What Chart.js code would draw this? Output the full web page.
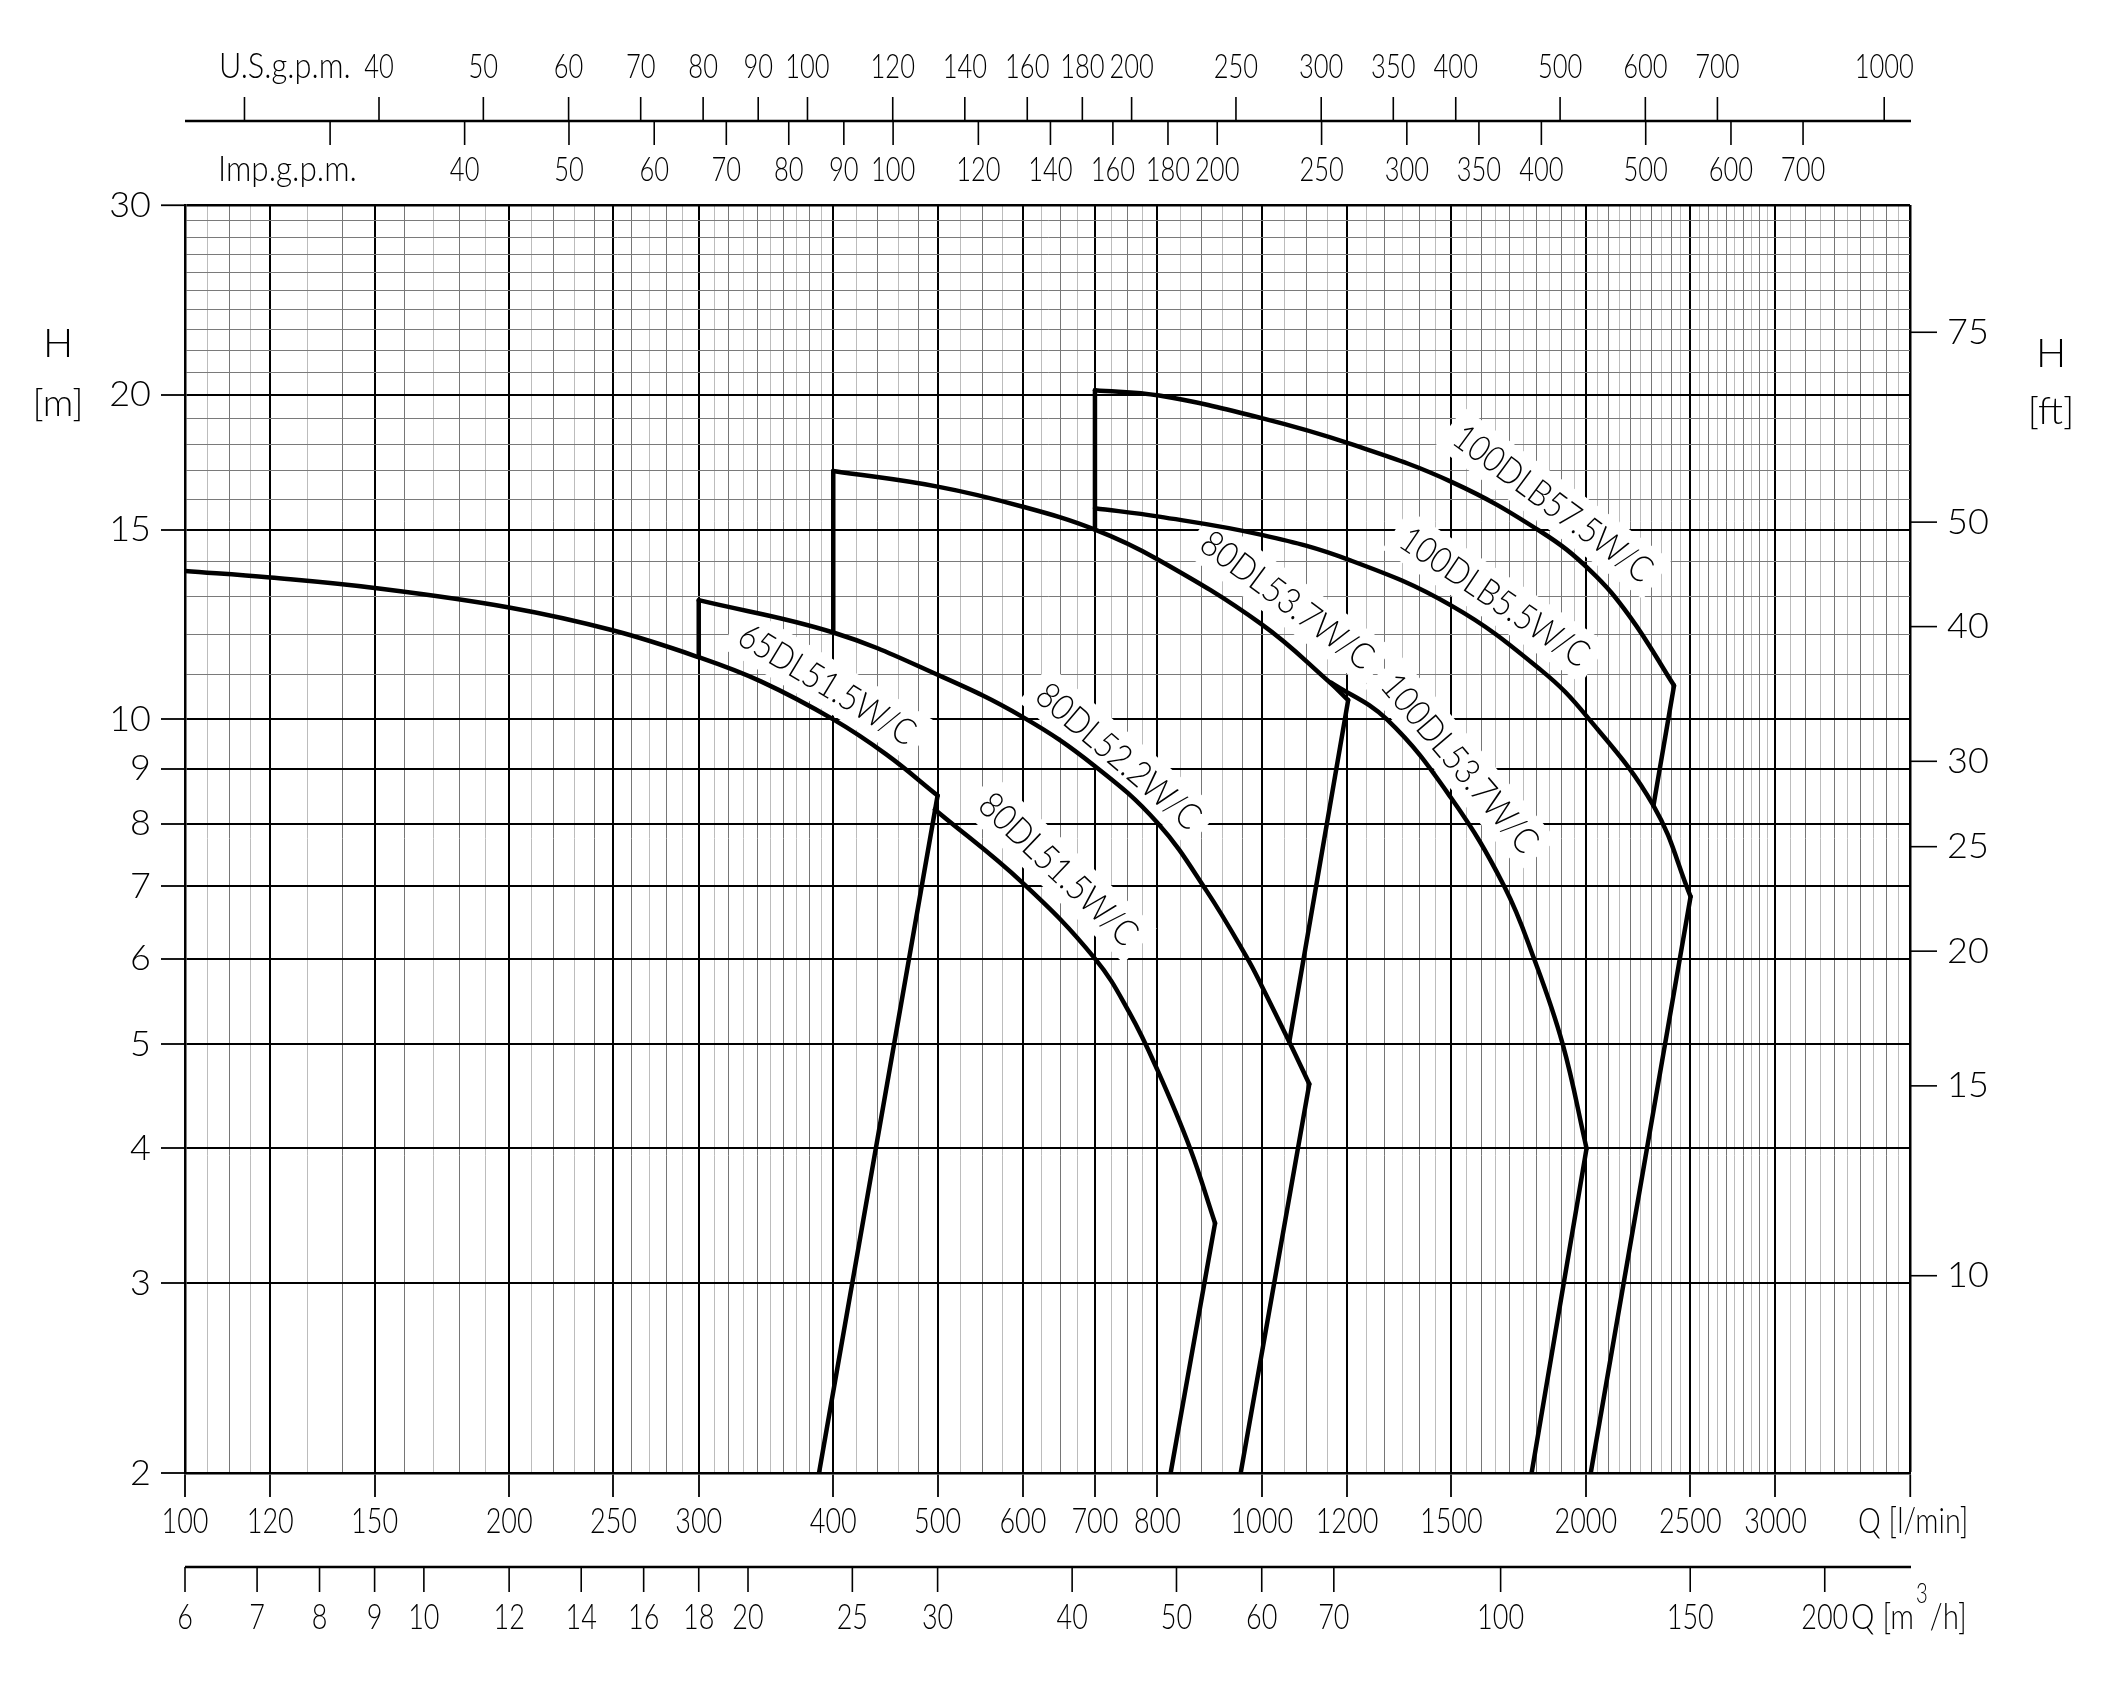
<!DOCTYPE html>
<html>
<head>
<meta charset="utf-8">
<title>DL pump curves</title>
<script src="https://cdn.jsdelivr.net/npm/chart.js@4.4.1/dist/chart.umd.min.js"></script>
<style>
  html, body { margin: 0; padding: 0; background: #fff; }
  canvas { display: block; }
</style>
</head>
<body>
<canvas id="chart" width="2105" height="1687"></canvas>
<script>
// Q in l/min, H in m

// 65DL51.5W/C
const q65DL515 = [100, 120, 150, 200, 250, 300, 343, 400, 448, 500];
const h65DL515 = [13.73, 13.54, 13.24, 12.7, 12.09, 11.42, 10.84, 10.0, 9.28, 8.5];
const drop65DL515Q = [500, 388];
const drop65DL515H = [8.5, 2];

// 80DL51.5W/C
const q80DL515 = [497, 600, 700, 754, 800, 858, 905];
const h80DL515 = [8.25, 7.05, 6.0, 5.34, 4.73, 4.0, 3.41];
const drop80DL515Q = [905, 823];
const drop80DL515H = [3.41, 2];

// 80DL52.2W/C
const rise80DL522Q = [300, 300];
const rise80DL522H = [11.42, 12.9];
const q80DL522 = [300, 400, 500, 600, 700, 800, 889, 970, 1000, 1063, 1107];
const h80DL522 = [12.9, 12.04, 11.0, 10.05, 9.05, 8.02, 6.93, 6.0, 5.66, 5.0, 4.59];
const drop80DL522Q = [1107, 956];
const drop80DL522H = [4.59, 2];

// 80DL53.7W/C
const rise80DL537Q = [400, 400];
const rise80DL537H = [12.04, 17.0];
const q80DL537 = [400, 500, 600, 700, 800, 1000, 1157, 1203];
const h80DL537 = [17.0, 16.44, 15.75, 15.0, 14.08, 12.25, 10.82, 10.42];
const drop80DL537Q = [1203, 1061];
const drop80DL537H = [10.42, 5.03];

// 100DL53.7W/C
const q100DL537 = [1160, 1307, 1500, 1680, 1790, 1903, 2003];
const h100DL537 = [10.82, 10.0, 8.45, 7.0, 6.0, 5.0, 4.0];
const drop100DL537Q = [2003, 1781];
const drop100DL537H = [4.0, 2];

// 100DLB57.5W/C
const rise100DLB575Q = [700, 700];
const rise100DLB575H = [15.0, 20.2];
const q100DLB575 = [700, 803, 1000, 1205, 1502, 1817, 2018, 2198, 2415];
const h100DLB575 = [20.2, 19.97, 19.03, 18.03, 16.6, 14.93, 13.75, 12.45, 10.75];
const drop100DLB575Q = [2415, 2311];
const drop100DLB575H = [10.75, 8.32];

// 100DLB5.5W/C
const q100DLB55 = [700, 803, 1000, 1205, 1500, 1817, 2003, 2311, 2502];
const h100DLB55 = [15.7, 15.42, 14.83, 14.06, 12.75, 11.11, 10.07, 8.32, 6.85];
const drop100DLB55Q = [2502, 2021];
const drop100DLB55H = [6.85, 2];

const curveNames = ['65DL51.5W/C', '80DL51.5W/C', '80DL52.2W/C', '80DL53.7W/C',
                    '100DL53.7W/C', '100DLB57.5W/C', '100DLB5.5W/C'];

// axis ticks
const qTicks = [100, 120, 150, 200, 250, 300, 400, 500, 600, 700, 800, 1000, 1200, 1500, 2000, 2500, 3000];
const qMax = 4000;
const hTicks = [2, 3, 4, 5, 6, 7, 8, 9, 10, 15, 20, 30];
const hMinor = [11, 12, 13, 14, 16, 17, 18, 19, 21, 22, 23, 24, 25, 26, 27, 28, 29];
const usGpmTicks = [30, 40, 50, 60, 70, 80, 90, 100, 120, 140, 160, 180, 200, 250, 300, 350, 400, 500, 600, 700, 1000];
const impGpmTicks = [30, 40, 50, 60, 70, 80, 90, 100, 120, 140, 160, 180, 200, 250, 300, 350, 400, 500, 600, 700];
const m3hTicks = [6, 7, 8, 9, 10, 12, 14, 16, 18, 20, 25, 30, 40, 50, 60, 70, 100, 150, 200];
const ftTicks = [10, 15, 20, 25, 30, 40, 50, 75];

// fine grid: [from, to, step]
const qMinorSteps = [[100, 120, 5], [120, 400, 10], [400, 500, 20], [500, 800, 25],
                     [800, 1000, 40], [1000, 3000, 50], [3000, 4000, 100]];

const US_GAL = 3.78541, IMP_GAL = 4.54609, M3H = 1000 / 60, FOOT = 0.3048;

// ---------- fonts ----------
function hasFont(name) {
    const c = document.createElement('canvas').getContext('2d');
    c.font = '40px monospace';
    const a = c.measureText('mmmiii0123WL').width;
    c.font = '40px "' + name + '", monospace';
    return c.measureText('mmmiii0123WL').width !== a;
}
const round = hasFont('Lato') ? 'Lato' : 'DejaVu Sans';
const SQUEEZE = 0.75;   // light font squeezed to look like the drawing-office lettering

// ---------- grid ticks ----------
const majorQ = new Set([...qTicks, qMax]);
const minorShade = new Map();
qMinorSteps.forEach(([a, b, s]) => {
    let k = 1;
    for (let v = a + s; v < b - 1e-9; v += s, k++) {
        const val = Math.round(v * 100) / 100;
        if (!majorQ.has(val)) minorShade.set(val, k % 2 === 0 ? '#767676' : '#bcbcbc');
    }
});
const qTickValues = [...new Set([...qTicks, ...minorShade.keys(), qMax])].sort((a, b) => a - b);
const majorH = new Set(hTicks);
const hTickValues = [...hTicks, ...hMinor].sort((a, b) => a - b);

// ---------- datasets ----------
function pts(qs, hs) {
    return qs.map((q, i) => ({ x: q, y: hs[i] }));
}
function curve(qs, hs) {
    return { data: pts(qs, hs), tension: 0.4 };
}
function straight(qs, hs) {
    return { data: pts(qs, hs), tension: 0 };
}

const datasets = [
    curve(q65DL515, h65DL515), straight(drop65DL515Q, drop65DL515H),
    curve(q80DL515, h80DL515), straight(drop80DL515Q, drop80DL515H),
    straight(rise80DL522Q, rise80DL522H), curve(q80DL522, h80DL522), straight(drop80DL522Q, drop80DL522H),
    straight(rise80DL537Q, rise80DL537H), curve(q80DL537, h80DL537), straight(drop80DL537Q, drop80DL537H),
    curve(q100DL537, h100DL537), straight(drop100DL537Q, drop100DL537H),
    straight(rise100DLB575Q, rise100DLB575H), curve(q100DLB575, h100DLB575), straight(drop100DLB575Q, drop100DLB575H),
    curve(q100DLB55, h100DLB55), straight(drop100DLB55Q, drop100DLB55H)
].map(d => Object.assign(d, {
    borderColor: '#000',
    borderWidth: 4.5,
    pointRadius: 0,
    fill: false,
    borderCapStyle: 'round',
    borderJoinStyle: 'round'
}));

// where each model name sits along its curve: [Q, H, angle in degrees, text length px]
const labelPlace = {
    '65DL51.5W/C':   [395, 10.79, 31.3, 200],
    '80DL51.5W/C':   [648, 7.27, 43.5, 204],
    '80DL52.2W/C':   [737, 9.25, 40.5, 204],
    '80DL53.7W/C':   [1057, 12.91, 36.6, 206],
    '100DL53.7W/C':  [1529, 9.11, 49.7, 222],
    '100DLB57.5W/C': [1866, 15.87, 36.5, 238],
    '100DLB5.5W/C':  [1647, 13.0, 34.0, 220]
};

// squeezed lettering, returns drawn width
function letter(ctx, str, x, y, size, align, squeeze) {
    const sq = squeeze || SQUEEZE;
    ctx.save();
    ctx.font = '300 ' + size + 'px "' + round + '"';
    ctx.textAlign = 'left';
    ctx.textBaseline = 'middle';
    const w = ctx.measureText(str).width * sq;
    const x0 = align === 'left' ? x : (align === 'right' ? x - w : x - w / 2);
    ctx.translate(x0, y);
    ctx.scale(sq, 1);
    ctx.fillText(str, 0, 0);
    ctx.restore();
    return w;
}
function roundText(ctx, str, x, y, size, align) {
    ctx.font = '300 ' + size + 'px "' + round + '"';
    ctx.textAlign = align || 'center';
    ctx.textBaseline = 'middle';
    ctx.fillText(str, x, y);
}

const sheetDecor = {
    id: 'sheetDecor',
    beforeDatasetsDraw(chart) {
        const ctx = chart.ctx;
        const xs = chart.scales.x, ys = chart.scales.y;
        ctx.save();
        curveNames.forEach(name => {
            const [q, h, ang, len] = labelPlace[name];
            const cx = xs.getPixelForValue(q), cy = ys.getPixelForValue(h);
            ctx.save();
            ctx.translate(cx, cy);
            ctx.rotate(ang * Math.PI / 180);
            ctx.font = '300 36px "' + round + '"';
            const w = ctx.measureText(name).width;
            ctx.fillStyle = '#fff';
            ctx.fillRect(-len / 2 - 10, -24, len + 20, 48);
            ctx.scale(len / w, 1);
            ctx.fillStyle = '#000';
            ctx.textAlign = 'center';
            ctx.textBaseline = 'middle';
            ctx.fillText(name, 0, 1);
            ctx.restore();
        });
        ctx.restore();
    },
    afterDraw(chart) {
        const ctx = chart.ctx;
        const xs = chart.scales.x, ys = chart.scales.y;
        const area = chart.chartArea;
        ctx.save();
        ctx.strokeStyle = '#000';
        ctx.fillStyle = '#000';

        // main Q axis numbers
        qTicks.forEach(q => letter(ctx, String(q), xs.getPixelForValue(q), 1521, 36));
        letter(ctx, 'Q [l/min]', 1858, 1521, 36, 'left', 0.8);

        // top: U.S. and Imp. gallons per minute
        const topY = 121;
        ctx.lineWidth = 2.5;
        ctx.beginPath();
        ctx.moveTo(area.left, topY);
        ctx.lineTo(area.right + 1, topY);
        ctx.stroke();
        ctx.lineWidth = 1.6;
        usGpmTicks.forEach(g => {
            const x = xs.getPixelForValue(g * US_GAL);
            ctx.beginPath();
            ctx.moveTo(x, topY);
            ctx.lineTo(x, topY - 24);
            ctx.stroke();
            if (g !== 30) letter(ctx, String(g), x, 67, 34);
        });
        impGpmTicks.forEach(g => {
            const x = xs.getPixelForValue(g * IMP_GAL);
            ctx.beginPath();
            ctx.moveTo(x, topY);
            ctx.lineTo(x, topY + 24);
            ctx.stroke();
            if (g !== 30) letter(ctx, String(g), x, 170, 34);
        });
        letter(ctx, 'U.S.g.p.m.', 219, 67, 35, 'left', 0.88);
        letter(ctx, 'Imp.g.p.m.', 218, 170, 35, 'left', 0.9);

        // bottom: m3/h
        const botY = 1567;
        ctx.lineWidth = 2.5;
        ctx.beginPath();
        ctx.moveTo(area.left, botY);
        ctx.lineTo(area.right + 1, botY);
        ctx.stroke();
        ctx.lineWidth = 1.6;
        m3hTicks.forEach(m => {
            const x = xs.getPixelForValue(m * M3H);
            ctx.beginPath();
            ctx.moveTo(x, botY);
            ctx.lineTo(x, botY + 25);
            ctx.stroke();
            letter(ctx, String(m), x, 1617, 36);
        });
        let tx = 1851;
        tx += letter(ctx, 'Q [m', tx, 1617, 36, 'left', 0.82) + 2;
        tx += letter(ctx, '3', tx, 1594, 27, 'left') + 2;
        letter(ctx, '/h]', tx, 1617, 36, 'left', 0.82);

        // right: feet
        ctx.lineWidth = 1.6;
        ftTicks.forEach(f => {
            const y = ys.getPixelForValue(f * FOOT);
            ctx.beginPath();
            ctx.moveTo(area.right, y);
            ctx.lineTo(area.right + 27, y);
            ctx.stroke();
            roundText(ctx, String(f), 1947, y, 36, 'left');
        });
        roundText(ctx, 'H', 2051, 354, 40);
        roundText(ctx, '[ft]', 2051, 412, 38);

        // left title
        roundText(ctx, 'H', 58, 344, 40);
        roundText(ctx, '[m]', 58, 404, 38);
        ctx.restore();
    }
};

new Chart(document.getElementById('chart'), {
    type: 'line',
    data: { datasets: datasets },
    options: {
        responsive: false,
        animation: false,
        devicePixelRatio: 1,
        layout: { padding: { left: 0, top: 205, right: 195, bottom: 0 } },
        plugins: {
            legend: { display: false },
            tooltip: { enabled: false }
        },
        scales: {
            x: {
                type: 'logarithmic',
                position: 'bottom',
                min: 100,
                max: qMax,
                afterBuildTicks: axis => { axis.ticks = qTickValues.map(v => ({ value: v })); },
                afterFit: axis => { axis.height = 214; },
                ticks: { display: false, autoSkip: false, maxRotation: 0 },
                grid: {
                    color: c => (!c.tick || majorQ.has(c.tick.value)) ? '#000' : (minorShade.get(c.tick.value) || '#999'),
                    lineWidth: c => (!c.tick || majorQ.has(c.tick.value)) ? (c.tick && c.tick.value === qMax ? 2.5 : 2) : 1,
                    tickColor: c => (!c.tick || majorQ.has(c.tick.value)) ? '#000' : 'rgba(0,0,0,0)',
                    tickWidth: 1.8,
                    tickLength: 24
                },
                border: { display: true, color: '#000', width: 2.5 }
            },
            y: {
                type: 'logarithmic',
                position: 'left',
                min: 2,
                max: 30,
                afterBuildTicks: axis => { axis.ticks = hTickValues.map(v => ({ value: v })); },
                afterFit: axis => { axis.width = 185; },
                ticks: {
                    autoSkip: false,
                    padding: 10,
                    color: '#000',
                    font: { family: round, size: 36, weight: '300' },
                    callback: v => (majorH.has(v) ? String(v) : '')
                },
                grid: {
                    color: c => (!c.tick || majorH.has(c.tick.value)) ? '#000' : '#7a7a7a',
                    lineWidth: c => (!c.tick || majorH.has(c.tick.value)) ? (c.tick && c.tick.value === 30 ? 2.5 : 2) : 1,
                    tickColor: c => (!c.tick || majorH.has(c.tick.value)) ? '#000' : 'rgba(0,0,0,0)',
                    tickWidth: 1.8,
                    tickLength: 24
                },
                border: { display: true, color: '#000', width: 2.5 }
            }
        }
    },
    plugins: [sheetDecor]
});
</script>
</body>
</html>
